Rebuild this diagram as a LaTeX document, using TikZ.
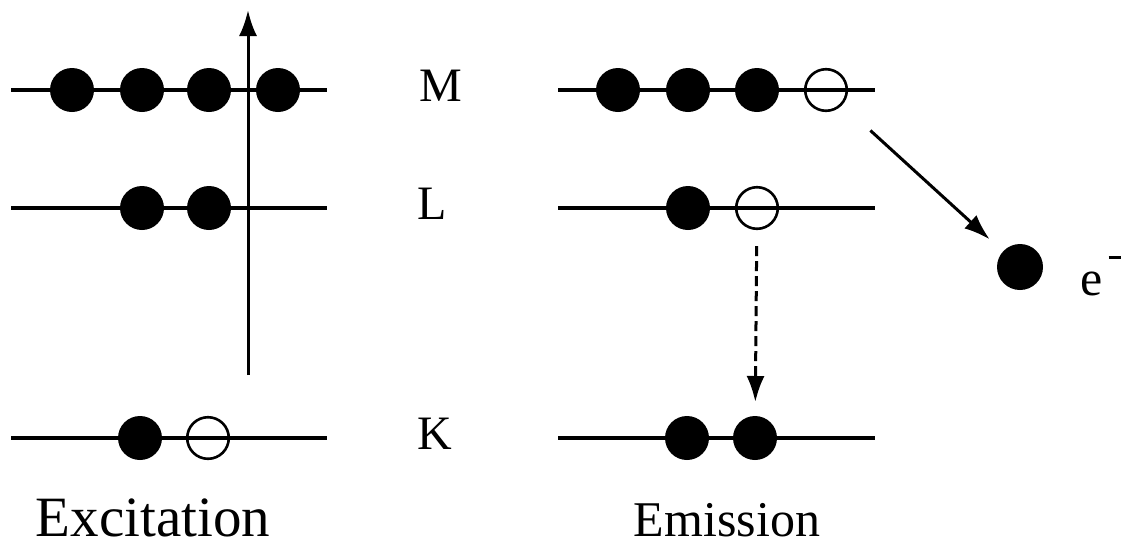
\documentclass[tikz,border=0pt]{standalone}
\usepackage{fontspec}
\setmainfont{Liberation Serif}
\usetikzlibrary{arrows.meta, positioning}

\begin{document}
\begin{tikzpicture}[
    % GLOBAL SETTINGS
    x=0.5pt, y=-0.5pt,
    % STYLES
    electron/.style={circle, fill=black, minimum size=22pt, inner sep=0pt, outer sep=0pt},
    hole/.style={circle, draw=black, line width=1.3pt, minimum size=20.8pt, inner sep=0pt},
    level/.style={draw, line width=1.6pt},
    shell_label/.style={font=\fontsize{24}{28}\selectfont},
    caption/.style={anchor=base},
    jump/.style={-{Latex[length=13pt,width=9pt]}, line width=1.5pt}
]

    \useasboundingbox (0,0) rectangle (1122,547);

    % Energy levels, left and right
    \foreach \lvl/\y/\lx in {M/90/441, L/208/432, K/438/435} {
        \draw[level] (11,\y) -- (327,\y);
        \draw[level] (558,\y) -- (875,\y);
        \node[shell_label] (lab\lvl) at (\lx,\y-4) {\lvl};
    }

    % Excitation side
    \foreach \i/\xx in {1/72, 2/142, 3/209, 4/278}
        \node[electron] (exM\i) at (\xx,90) {};
    \foreach \i/\xx in {1/142, 2/209}
        \node[electron] (exL\i) at (\xx,208) {};
    \node[electron] (exK1) at (140,438) {};
    \node[hole] (exK2) at (208,438) {};

    \coordinate (kick_start) at (248,375);
    \coordinate (kick_end) at (248,10);
    \draw[jump] (kick_start) -- (kick_end);

    % Emission side
    \foreach \i/\xx in {1/618, 2/688, 3/757}
        \node[electron] (emM\i) at (\xx,90) {};
    \node[hole] (emM4) at (826,90) {};
    \node[electron] (emL1) at (688,208) {};
    \node[hole] (emL2) at (757,208) {};
    \node[electron] (emK1) at (687,438) {};
    \node[electron] (emK2) at (755,438) {};

    \draw[jump, dash pattern=on 5pt off 2.5pt, shorten <=8pt, shorten >=7pt] (emL2) -- (emK2);

    % Auger electron
    \node[electron, minimum size=23pt] (auger) at (1020,267) {};
    \node[anchor=base west, font=\fontsize{25}{30}\selectfont, inner sep=0pt] (elabel) at (1080,295)
        {e\hspace{3pt}\raisebox{18pt}{\rule{6pt}{1.5pt}}};
    \draw[jump, shorten <=19pt, shorten >=9pt] (emM4) -- (auger);

    % Captions
    \node[caption, font=\fontsize{28.5}{34}\selectfont] (excite) at (153,536) {Excitation};
    \node[caption, font=\fontsize{25}{30}\selectfont] (emit) at (727,536) {Emission};

\end{tikzpicture}
\end{document}
